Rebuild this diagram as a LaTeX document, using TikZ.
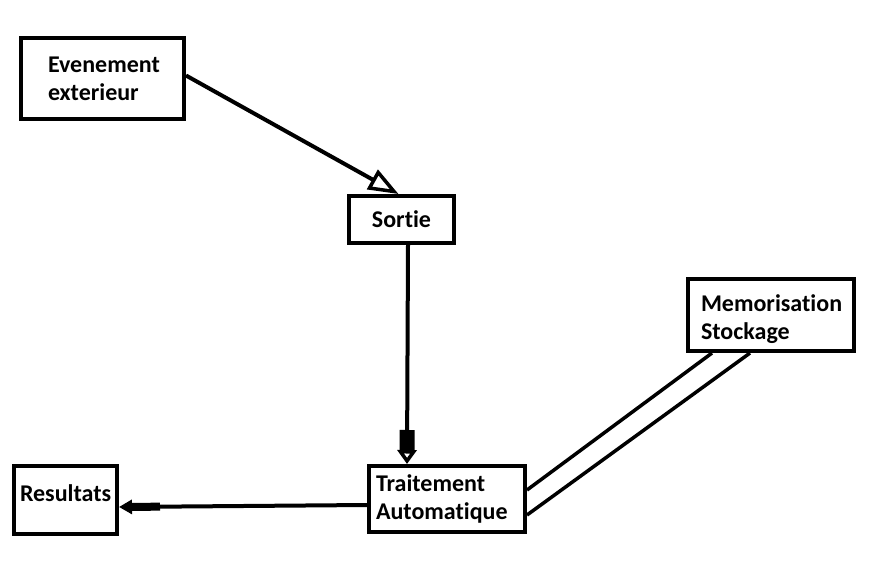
\documentclass[tikz,border=0pt]{standalone}
\usepackage{fontspec}
\setmainfont{Carlito}[Ligatures=NoCommon]
\usetikzlibrary{arrows.meta}
\begin{document}
\begin{tikzpicture}[x=1pt,y=-1pt,
  box/.style={draw=black,line width=4pt,rectangle,inner ysep=0pt,
    font=\bfseries\fontsize{24}{28}\selectfont},
  lbox/.style={box,align=left},
  conn/.style={draw=black,line width=4pt},
  openhead/.style={-{Triangle[open,length=30pt,width=22pt,line width=3.5pt]}},
  thickopen/.style={-{Rectangle[length=20pt,width=15pt] Triangle[open,length=14pt,width=19pt,line width=3.5pt]}},
  fillhead/.style={-{Rectangle[length=28pt,width=8pt] Triangle[length=13pt,width=14pt]}}
]
\fill[white] (0,0) rectangle (878,586);
\useasboundingbox (0,0) rectangle (878,586);

\node[lbox,minimum width=163pt,minimum height=81pt,text width=109pt,inner xsep=27pt] (Ev) at (102.5,78.5) {Evenement\\exterieur};
\node[box,minimum width=105pt,minimum height=47pt] (So) at (401.5,219.5) {Sortie};
\node[lbox,minimum width=156pt,minimum height=66pt,text width=142pt,inner xsep=7pt] (Tr) at (447,499) {Traitement\\Automatique};
\node[lbox,minimum width=103pt,minimum height=68pt,text width=91pt,inner xsep=6pt,text depth=14pt] (Re) at (65.5,500) {Resultats};
\node[lbox,minimum width=166pt,minimum height=72pt,text width=140pt,inner xsep=13pt,text height=25pt] (Me) at (771,315) {Memorisation\\Stockage};

\draw[conn,openhead] ([yshift=3pt]Ev.east) -- ([xshift=-3pt]So.north);
\draw[conn,thickopen] ([xshift=6.5pt]So.south) -- ([xshift=-40pt]Tr.north);
\draw[conn,fillhead] ([yshift=-6pt]Tr.west) -- ([yshift=-7pt]Re.east);
\draw[conn,line width=3.5pt] ([xshift=-59pt]Me.south) -- ([yshift=9pt]Tr.east);
\draw[conn,line width=3.5pt] ([xshift=-21pt]Me.south) -- ([yshift=-16pt]Tr.east);
\end{tikzpicture}
\end{document}
